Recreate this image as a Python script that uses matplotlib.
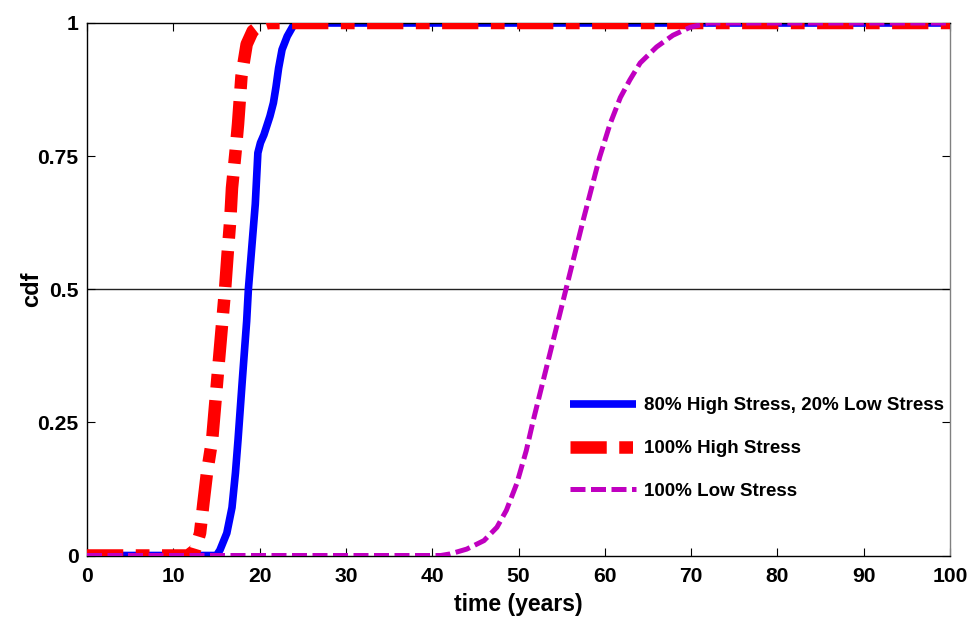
import matplotlib
matplotlib.use("Agg")
import matplotlib.pyplot as plt

plt.rcParams['font.family'] = ['Liberation Sans', 'DejaVu Sans']
plt.rcParams['font.weight'] = 'bold'

# 80% High Stress, 20% Low Stress
mix_x = [0, 15.0, 15.4, 16.2, 16.8, 17.2, 17.5, 18.0, 18.5, 18.7, 19.1, 19.5, 19.8,
         20.1, 20.5, 21.2, 21.6, 21.9, 22.2, 22.6, 23.2, 23.9, 24.5, 100]
mix_y = [0, 0, 0.01, 0.042, 0.09, 0.155, 0.217, 0.33, 0.44, 0.50, 0.58, 0.66, 0.756,
         0.775, 0.79, 0.825, 0.85, 0.88, 0.915, 0.95, 0.975, 0.995, 1.0, 1.0]

# 100% High Stress
high_x = [0, 11.7, 12.5, 13.1, 13.5, 13.9, 14.5, 15.2, 16.0, 16.3, 16.6, 16.8, 17.2,
          17.5, 17.9, 18.5, 19.2, 20.0, 21.0, 100]
high_y = [0, 0, 0.01, 0.042, 0.10, 0.155, 0.217, 0.35, 0.5, 0.568, 0.63, 0.69, 0.756,
          0.81, 0.9, 0.96, 0.985, 0.995, 1.0, 1.0]

# 100% Low Stress
low_x = [0, 41, 42.1, 44, 46, 47.5, 48.6, 49.8, 50.9, 51.7, 53.5, 55.5, 57.5, 59.4,
         60.6, 61.8, 62.9, 64.1, 66, 67.9, 69.9, 72, 100]
low_y = [0, 0, 0.003, 0.012, 0.028, 0.053, 0.085, 0.135, 0.197, 0.253, 0.37, 0.5, 0.63,
         0.748, 0.81, 0.86, 0.893, 0.925, 0.955, 0.977, 0.992, 1.0, 1.0]

labels = ['80% High Stress, 20% Low Stress', '100% High Stress', '100% Low Stress']
xticks = [0, 10, 20, 30, 40, 50, 60, 70, 80, 90, 100]
yticks = [0, 0.25, 0.5, 0.75, 1]
ytick_labels = ['0', '0.25', '0.5', '0.75', '1']

fig = plt.figure(figsize=(9.74, 6.2), dpi=100)
ax = fig.add_axes([87/974, 1 - 555.5/620, (950-87)/974, (555.5-23)/620])

ax.axhline(0.5, color='#222222', lw=1.0, zorder=1)
ax.plot(mix_x, mix_y, color='#0000ff', lw=5.5, solid_capstyle='butt', label=labels[0], zorder=2)
ax.plot(high_x, high_y, color='#ff0000', lw=9, dashes=(2.9, 1.0, 1.1, 1.0),
        dash_capstyle='butt', label=labels[1], zorder=3)
ax.plot(low_x, low_y, color='#c000c0', lw=3.6, dashes=(3.0, 1.1),
        dash_capstyle='butt', label=labels[2], zorder=4)

ax.set_xlim(0, 100)
ax.set_ylim(0, 1)
ax.set_xticks(xticks)
ax.set_xticklabels([str(t) for t in xticks])
ax.set_yticks(yticks)
ax.set_yticklabels(ytick_labels)
ax.tick_params(direction='in', length=6, width=0.8, top=True, right=True,
               labelsize=15.2)
ax.tick_params(axis='x', pad=8)
ax.tick_params(axis='y', pad=6)
for lab in ax.get_xticklabels() + ax.get_yticklabels():
    lab.set_fontweight('bold')
for s in ax.spines.values():
    s.set_linewidth(1.0)
    s.set_color('black')
ax.spines['right'].set_color('#808080')

ax.set_xlabel('time (years)', fontsize=16.6, fontweight='bold', labelpad=5)
ax.set_ylabel('cdf', fontsize=17, fontweight='bold')
ax.yaxis.set_label_coords(-0.051, 0.5)

leg = ax.legend(loc='upper left', bbox_to_anchor=(0.56, 0.297), frameon=False,
                fontsize=13.5, handlelength=3.5, handletextpad=0.45,
                labelspacing=1.36, borderpad=0, borderaxespad=0)
for t in leg.get_texts():
    t.set_fontweight('bold')

fig.savefig('out.png', dpi=100)
